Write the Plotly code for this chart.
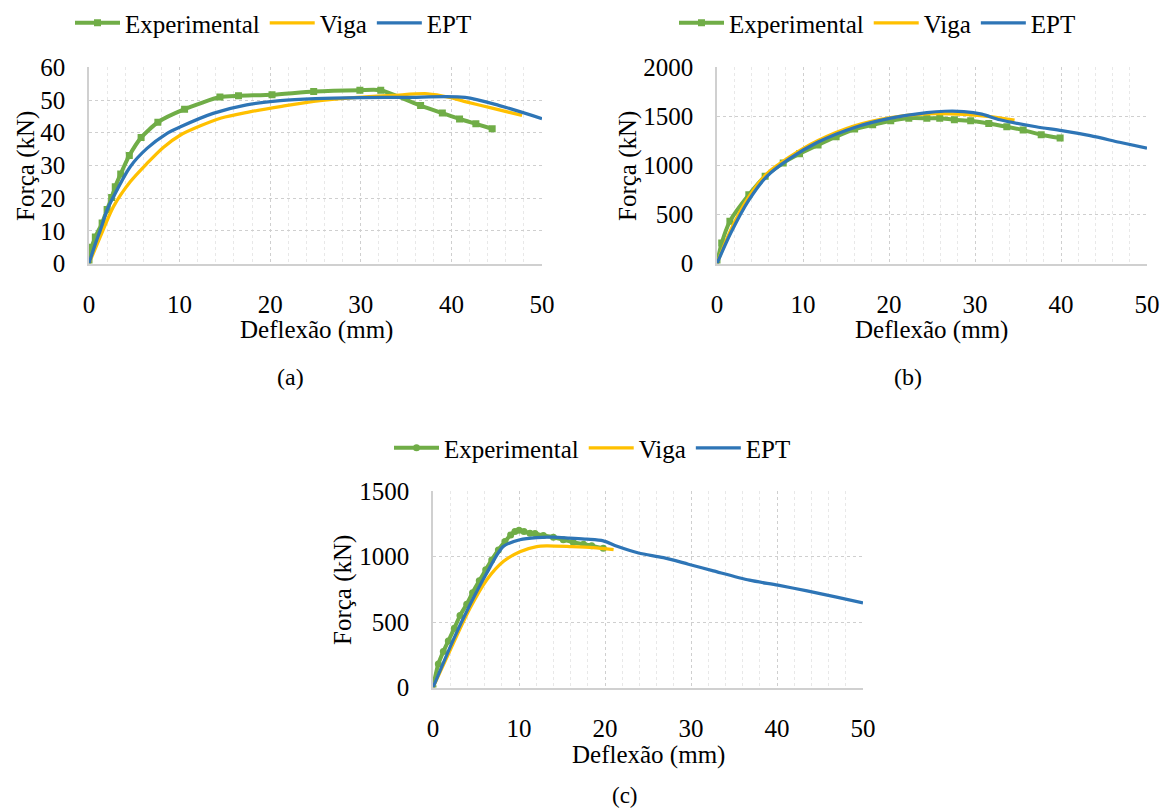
import plotly.graph_objects as go

# ---------------- (a) ----------------
a_exp_x = [0.0, 0.3, 0.7, 1.45, 2.0, 2.5, 2.9, 3.5, 4.45, 5.75, 7.6, 10.55, 14.45, 16.5, 20.2, 24.8, 29.9, 32.2, 36.6, 39.0, 40.9, 42.7, 44.5]
a_exp_y = [0.5, 5.0, 8.1, 12.4, 16.5, 20.2, 23.5, 27.4, 33.0, 38.5, 43.2, 47.2, 50.9, 51.3, 51.6, 52.6, 53.0, 53.0, 48.3, 46.0, 44.2, 42.7, 41.2]
a_viga_x = [0.0, 1.25, 2.7, 4.55, 6.4, 8.2, 10.1, 12.3, 14.6, 17.6, 21.1, 24.8, 29.6, 33.5, 37.4, 39.8, 41.4, 44.5, 47.8]
a_viga_y = [0.0, 8.2, 17.4, 25.0, 30.6, 35.5, 39.3, 42.1, 44.5, 46.3, 48.0, 49.6, 50.8, 51.4, 51.9, 50.8, 49.6, 47.5, 45.3]
a_ept_x = [0.0, 0.7, 1.25, 2.0, 2.7, 4.55, 6.4, 8.5, 10.1, 13.7, 17.4, 21.1, 25.0, 30.0, 35.0, 41.5, 45.3, 50.0]
a_ept_y = [0.0, 6.0, 10.2, 16.4, 20.4, 29.6, 35.2, 39.6, 41.8, 45.9, 48.5, 49.8, 50.4, 50.7, 50.8, 50.8, 48.3, 44.3]

# ---------------- (b) ----------------
b_exp_x = [0.0, 0.55, 1.5, 3.7, 5.6, 7.7, 9.6, 11.75, 13.85, 16.0, 18.1, 20.2, 22.3, 24.4, 25.9, 27.6, 29.5, 31.6, 33.7, 35.6, 37.7, 39.9]
b_exp_y = [5, 210, 430, 700, 890, 1025, 1118, 1209, 1293, 1370, 1414, 1455, 1481, 1481, 1481, 1465, 1455, 1428, 1394, 1360, 1313, 1279]
b_viga_x = [0.0, 1.6, 3.7, 5.8, 8.4, 11.7, 16.0, 20.2, 24.4, 28.7, 32.0, 34.6]
b_viga_y = [0, 343, 680, 916, 1084, 1252, 1404, 1488, 1525, 1520, 1495, 1461]
b_ept_x = [0.0, 1.6, 3.7, 5.8, 8.4, 11.7, 16.0, 20.2, 24.4, 26.5, 28.7, 30.8, 32.9, 37.1, 40.1, 43.4, 46.8, 50.0]
b_ept_y = [0, 310, 646, 889, 1067, 1236, 1387, 1481, 1539, 1552, 1549, 1522, 1465, 1394, 1354, 1303, 1236, 1175]

# ---------------- (c) ----------------
c_exp_x = [0.0, 0.62, 1.2, 1.78, 2.48, 3.14, 3.92, 4.6, 5.38, 6.13, 6.83, 7.6, 8.37, 9.03, 9.53, 10.0, 10.58, 11.28, 11.86, 12.83, 14.0, 15.15, 16.3, 17.5, 18.45, 19.8]
c_exp_y = [6, 180, 274, 355, 452, 549, 636, 724, 814, 898, 974, 1050, 1114, 1165, 1190, 1200, 1190, 1178, 1175, 1160, 1147, 1127, 1109, 1094, 1083, 1063]
c_viga_x = [0.0, 2.36, 4.3, 6.24, 8.17, 10.1, 12.06, 13.2, 15.9, 18.6, 21.0]
c_viga_y = [0, 338, 605, 821, 961, 1037, 1076, 1081, 1076, 1068, 1052]
c_ept_x = [0.0, 2.36, 4.3, 6.24, 8.17, 10.1, 12.06, 14.0, 15.9, 17.9, 19.8, 21.4, 23.9, 26.8, 29.7, 32.6, 36.8, 40.1, 43.5, 46.8, 50.0]
c_ept_y = [0, 364, 631, 872, 1076, 1128, 1145, 1147, 1140, 1132, 1119, 1078, 1027, 991, 941, 890, 819, 781, 737, 692, 646]

x_ticks = [0, 10, 20, 30, 40, 50]

GREEN = "#70AD47"
GOLD = "#FFC000"
BLUE = "#2E75B6"
FONT = "Liberation Serif"
W, H = 1170, 809

panels = [
    # suffix, legend, exp data, viga data, ept data, marker symbol, y range, y step, box (px)
    ("", "legend", (a_exp_x, a_exp_y), (a_viga_x, a_viga_y), (a_ept_x, a_ept_y), "square", 60, 10, (89, 542, 67.3, 263.5)),
    ("2", "legend2", (b_exp_x, b_exp_y), (b_viga_x, b_viga_y), (b_ept_x, b_ept_y), "square", 2000, 500, (717, 1147, 67.3, 263.5)),
    ("3", "legend3", (c_exp_x, c_exp_y), (c_viga_x, c_viga_y), (c_ept_x, c_ept_y), "circle", 1500, 500, (433, 863, 491, 687.5)),
]

fig = go.Figure()
layout = {}
for suf, leg, exp, viga, ept, sym, ymax, ystep, box in panels:
    xa, ya = "x" + suf, "y" + suf
    fig.add_trace(go.Scatter(x=exp[0], y=exp[1], name="Experimental", mode="lines+markers",
                             line=dict(color=GREEN, width=4, shape="spline", smoothing=0.6),
                             marker=dict(symbol=sym, size=7, color=GREEN),
                             xaxis=xa, yaxis=ya, legend=leg))
    fig.add_trace(go.Scatter(x=viga[0], y=viga[1], name="Viga", mode="lines",
                             line=dict(color=GOLD, width=3.25, shape="spline", smoothing=0.8),
                             xaxis=xa, yaxis=ya, legend=leg))
    fig.add_trace(go.Scatter(x=ept[0], y=ept[1], name="EPT", mode="lines",
                             line=dict(color=BLUE, width=3.25, shape="spline", smoothing=0.8),
                             xaxis=xa, yaxis=ya, legend=leg))
    x0, x1, yt, yb = box
    layout["xaxis" + suf] = dict(
        domain=[x0 / W, x1 / W], anchor=ya, range=[0, 50], tickvals=x_ticks,
        showgrid=True, gridcolor="#CFCFCF", griddash="dot", gridwidth=1,
        minor=dict(dtick=2, showgrid=True, gridcolor="#E8E8E8", griddash="dot", gridwidth=1),
        showline=True, linecolor="#D0D0D0", linewidth=1.5, zeroline=False,
        ticks="", ticklabelstandoff=18,
        tickfont=dict(family=FONT, size=25, color="black"), automargin=False, fixedrange=True)
    layout["yaxis" + suf] = dict(
        domain=[1 - yb / H, 1 - yt / H], anchor=xa, range=[0, ymax], dtick=ystep,
        showgrid=True, gridcolor="#CFCFCF", griddash="dot", gridwidth=1,
        showline=True, linecolor="#D0D0D0", linewidth=1.5, zeroline=False,
        ticks="", ticklabelstandoff=17,
        tickfont=dict(family=FONT, size=25, color="black"), automargin=False, fixedrange=True)

legend_style = dict(orientation="h", xanchor="left", yanchor="middle", bgcolor="rgba(0,0,0,0)",
                    font=dict(family=FONT, size=25, color="black"), itemwidth=45,
                    tracegroupgap=0, itemclick=False, itemdoubleclick=False)
layout["legend"] = dict(legend_style, x=70 / W, y=1 - 23 / H)
layout["legend2"] = dict(legend_style, x=674 / W, y=1 - 23 / H)
layout["legend3"] = dict(legend_style, x=389 / W, y=1 - 448 / H)


def ann(text, px, py, angle=0, size=25):
    return dict(text=text, x=px / W, y=1 - py / H, xref="paper", yref="paper",
                xanchor="center", yanchor="middle", showarrow=False, textangle=angle,
                font=dict(family=FONT, size=size, color="black"))


annotations = [
    ann("Deflexão (mm)", 316, 330), ann("Força (kN)", 26, 166, -90), ann("(a)", 290, 377, size=24),
    ann("Deflexão (mm)", 932, 330), ann("Força (kN)", 628, 166, -90), ann("(b)", 908, 377, size=24),
    ann("Deflexão (mm)", 648, 755), ann("Força (kN)", 343, 590, -90), ann("(c)", 625, 795, size=23),
]

fig.update_layout(width=W, height=H, margin=dict(l=0, r=0, t=0, b=0),
                  paper_bgcolor="white", plot_bgcolor="white",
                  font=dict(family=FONT, color="black"),
                  annotations=annotations, **layout)

fig.write_html("out.html")
